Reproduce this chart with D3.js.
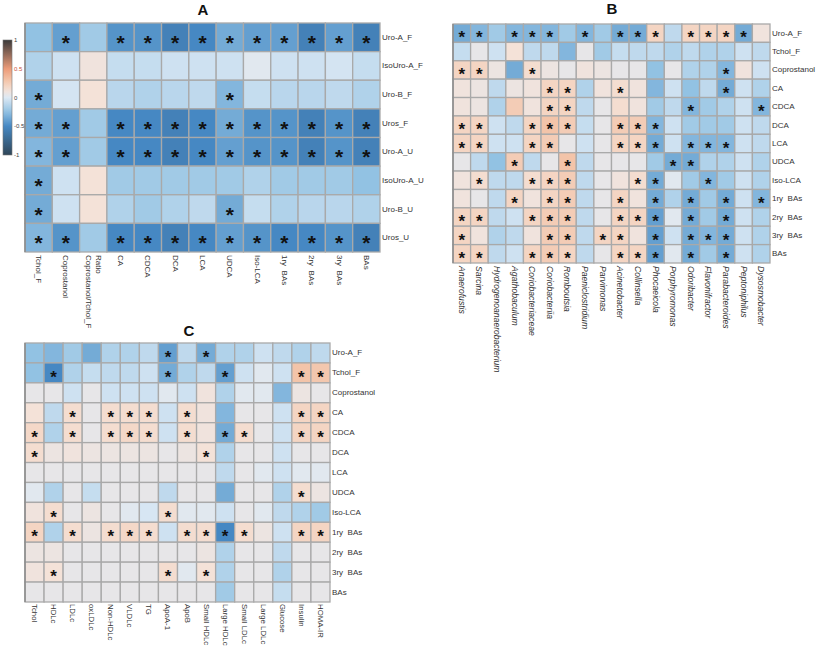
<!DOCTYPE html>
<html><head><meta charset="utf-8">
<script src="https://cdn.jsdelivr.net/npm/d3@7"></script>
<style>
html,body{margin:0;padding:0;background:#fff;}
svg{display:block;font-family:"Liberation Sans",Arial,sans-serif;}
</style></head>
<body><svg id="chart" width="817" height="649"></svg>
<script>
// ---------- Panel A ----------
const aRows = ["Uro-A_F","IsoUro-A_F","Uro-B_F","Uros_F","Uro-A_U","IsoUro-A_U","Uro-B_U","Uros_U"];
const aCols = ["Tchol_F","Coprostanol","Ratio\nCoprostanol/Tchol_F","CA","CDCA","DCA","LCA","UDCA","Iso-LCA","1ry  BAs","2ry  BAs","3ry  BAs","BAs"];
const aValues = [
  [-0.25,-0.40,-0.20,-0.45,-0.45,-0.55,-0.50,-0.35,-0.40,-0.40,-0.55,-0.40,-0.55],
  [-0.15,-0.05, 0.10,-0.08,-0.08,-0.05,-0.05,-0.05, 0.02,-0.05,-0.05,-0.03,-0.08],
  [-0.35,-0.03, 0.12,-0.12,-0.15,-0.12,-0.10,-0.30,-0.08,-0.12,-0.12,-0.10,-0.15],
  [-0.35,-0.40,-0.20,-0.50,-0.50,-0.55,-0.50,-0.35,-0.45,-0.45,-0.55,-0.45,-0.55],
  [-0.30,-0.40,-0.20,-0.50,-0.50,-0.55,-0.50,-0.40,-0.45,-0.45,-0.55,-0.45,-0.55],
  [-0.35,-0.05, 0.12,-0.20,-0.20,-0.20,-0.20,-0.20,-0.15,-0.20,-0.20,-0.20,-0.25],
  [-0.35,-0.05, 0.12,-0.15,-0.20,-0.15,-0.10,-0.35,-0.08,-0.15,-0.12,-0.12,-0.15],
  [-0.30,-0.45,-0.20,-0.50,-0.50,-0.55,-0.50,-0.40,-0.45,-0.50,-0.50,-0.45,-0.55]
];
const aStars = [
  [1,3,4,5,6,7,8,9,10,11,12],
  [],
  [0,7],
  [0,1,3,4,5,6,7,8,9,10,11,12],
  [0,1,3,4,5,6,7,8,9,10,11,12],
  [0],
  [0,7],
  [0,1,3,4,5,6,7,8,9,10,11,12]
];
const legendTicks = [1,0.5,0,-0.5,-1];

// ---------- Panel B ----------
const bRows = ["Uro-A_F","Tchol_F","Coprostanol","CA","CDCA","DCA","LCA","UDCA","Iso-LCA","1ry  BAs","2ry  BAs","3ry  BAs","BAs"];
const bCols = ["Anaerofustis","Sarcina","Hydrogenoanaerobacterium","Agathobaculum","Coriobacteriaceae","Coriobacteriia","Romboutsia","Paeniclostridium","Parvimonas","Acinetobacter","Collinsella","Phocaeicola","Porphyromonas","Odoribacter","Flavonifractor","Parabacteroides","Peptoniphilus","Dysosmobacter"];
const bValues = [
  [-0.35,-0.30,-0.20,-0.30,-0.30,-0.30,-0.20,-0.30,-0.20,-0.35,-0.35, 0.20,-0.10, 0.20, 0.20, 0.20,-0.35, 0.10],
  [-0.08, 0.05,-0.05, 0.12,-0.10,-0.10,-0.30, 0.05,-0.20,-0.08,-0.10,-0.10,-0.15,-0.10,-0.15,-0.15,-0.05,-0.10],
  [ 0.20, 0.20, 0.08,-0.35, 0.15, 0.08, 0.05, 0.10, 0.08, 0.05, 0.05,-0.25, 0.05,-0.15,-0.15,-0.30, 0.10,-0.05],
  [ 0.10, 0.08,-0.10, 0.08, 0.10, 0.20, 0.20,-0.15, 0.10, 0.15, 0.10,-0.30,-0.05,-0.25,-0.10,-0.35,-0.05,-0.15],
  [ 0.10, 0.08,-0.15, 0.25, 0.10, 0.20, 0.20,-0.10, 0.05, 0.15, 0.10,-0.20,-0.10,-0.30,-0.20,-0.15,-0.05,-0.30],
  [ 0.20, 0.20,-0.05,-0.10, 0.20, 0.30, 0.25,-0.08, 0.05, 0.25, 0.25,-0.30,-0.05,-0.20,-0.20,-0.20,-0.05,-0.10],
  [ 0.20, 0.20,-0.05,-0.05, 0.20, 0.25, 0.05,-0.05, 0.05, 0.20, 0.20,-0.35,-0.05,-0.30,-0.30,-0.30,-0.05,-0.10],
  [ 0.05,-0.10,-0.25, 0.25,-0.10, 0.05, 0.30,-0.10, 0.05, 0.05, 0.05,-0.20,-0.35,-0.35,-0.15,-0.15,-0.05,-0.15],
  [ 0.10, 0.15,-0.10,-0.10, 0.15, 0.20, 0.25,-0.10, 0.05, 0.10, 0.15,-0.35, 0.02,-0.20,-0.30,-0.20,-0.05,-0.15],
  [ 0.10, 0.05,-0.10, 0.20, 0.10, 0.20, 0.25,-0.10, 0.05, 0.20, 0.10,-0.35,-0.15,-0.35,-0.20,-0.35,-0.05,-0.30],
  [ 0.20, 0.20,-0.10,-0.05, 0.20, 0.25, 0.25,-0.10, 0.05, 0.20, 0.20,-0.40, 0.02,-0.35,-0.20,-0.35,-0.05,-0.15],
  [ 0.20, 0.10,-0.15,-0.10, 0.10, 0.25, 0.25,-0.10, 0.20, 0.20, 0.10,-0.40,-0.05,-0.35,-0.30,-0.35,-0.05,-0.15],
  [ 0.20, 0.20,-0.10,-0.05, 0.20, 0.25, 0.20,-0.10, 0.05, 0.20, 0.20,-0.40, 0.02,-0.35,-0.20,-0.35,-0.05,-0.15]
];
const bStars = [
  [0,1,3,4,5,7,9,10,11,13,14,15,16],
  [],
  [0,1,4,15],
  [5,6,9,15],
  [5,6,13,17],
  [0,1,4,5,6,9,10,11],
  [0,1,4,5,9,10,11,13,14,15],
  [3,6,12,13],
  [1,4,5,6,10,11,14],
  [3,5,6,9,11,13,15,17],
  [0,1,4,5,6,9,10,11,13,15],
  [0,5,6,8,9,11,13,14,15],
  [0,1,4,5,6,9,10,11,13,15]
];

// ---------- Panel C ----------
const cRows = ["Uro-A_F","Tchol_F","Coprostanol","CA","CDCA","DCA","LCA","UDCA","Iso-LCA","1ry  BAs","2ry  BAs","3ry  BAs","BAs"];
const cCols = ["Tchol","HDLc","LDLc","oxLDLc","Non-HDLc","VLDLc","TG","ApoA-1","ApoB","Small HDLc","Large HDLc","Small LDLc","Large LDLc","Glucose","Insulin","HOMA-IR"];
const cValues = [
  [-0.25,-0.30,-0.20,-0.35,-0.15,-0.15,-0.10,-0.40,-0.10,-0.35,-0.15,-0.15,-0.05,-0.10,-0.15,-0.10],
  [-0.25,-0.50,-0.15,-0.08,-0.10,-0.10,-0.05,-0.35,-0.15,-0.10,-0.40,-0.05, 0.02,-0.05, 0.30, 0.28],
  [ 0.05, 0.05,-0.05, 0.05,-0.05,-0.05,-0.05, 0.02,-0.05, 0.10,-0.15, 0.02, 0.02,-0.30, 0.08, 0.05],
  [ 0.12,-0.10, 0.15, 0.05, 0.15, 0.15, 0.15,-0.05, 0.15, 0.10,-0.30, 0.05, 0.05,-0.05, 0.20, 0.20],
  [ 0.18,-0.15, 0.15, 0.05, 0.15, 0.18, 0.15,-0.05, 0.15, 0.10,-0.35, 0.15, 0.05,-0.05, 0.20, 0.20],
  [ 0.15, 0.08, 0.10, 0.08, 0.08, 0.08, 0.08, 0.05, 0.08, 0.12,-0.15, 0.05, 0.05,-0.05, 0.05, 0.05],
  [ 0.05, 0.05, 0.05, 0.05, 0.05, 0.05, 0.05, 0.05, 0.05, 0.05,-0.10, 0.05, 0.02,-0.05, 0.02, 0.02],
  [ 0.02,-0.15, 0.05,-0.08, 0.05, 0.05, 0.05,-0.10, 0.05, 0.05,-0.35, 0.05, 0.05,-0.15, 0.15, 0.08],
  [ 0.10, 0.15, 0.05, 0.08, 0.05, 0.02,-0.02, 0.15, 0.02, 0.02,-0.05, 0.05, 0.02,-0.10,-0.15,-0.20],
  [ 0.20,-0.15, 0.15, 0.08, 0.15, 0.18, 0.15,-0.05, 0.15, 0.15,-0.50, 0.15, 0.08,-0.05, 0.20, 0.20],
  [ 0.08, 0.08, 0.05, 0.05, 0.05, 0.05, 0.05, 0.05, 0.05, 0.08,-0.15, 0.05, 0.05,-0.10, 0.05, 0.05],
  [ 0.10, 0.12, 0.05, 0.05, 0.05, 0.05, 0.05, 0.15, 0.02, 0.12,-0.15, 0.05, 0.05,-0.15, 0.05, 0.05],
  [ 0.05, 0.05, 0.05, 0.05, 0.05, 0.05, 0.05, 0.05, 0.05, 0.05,-0.20, 0.05, 0.05,-0.08, 0.05, 0.05]
];
const cStars = [
  [7,9],
  [1,7,10,14,15],
  [],
  [2,4,5,6,8,14,15],
  [0,2,4,5,6,8,10,11,14,15],
  [0,9],
  [],
  [14],
  [1,7],
  [0,2,4,5,6,8,9,10,11,14,15],
  [],
  [1,7,9],
  []
];

// ---------- drawing ----------
const svg = d3.select("#chart");
const color = d3.scaleLinear()
  .domain([-1,-0.5,-0.25,0,0.12,0.3,0.5,1])
  .range(["#2f4658","#4688c3","#92c2e3","#dde9f4","#f4e2d8","#f3c4a9","#ec9b79","#3a3a3a"])
  .clamp(true);

function drawPanel(cfg) {
  const g = svg.append("g");
  const x = d3.scaleBand().domain(d3.range(cfg.cols.length)).range([cfg.x0, cfg.x1]);
  const y = d3.scaleBand().domain(d3.range(cfg.rows.length)).range([cfg.y0, cfg.y1]);
  const cells = [];
  cfg.values.forEach((row, i) => row.forEach((v, j) => cells.push({i, j, v})));
  g.selectAll("rect.cell").data(cells).join("rect")
    .attr("class","cell")
    .attr("x", d => x(d.j)).attr("y", d => y(d.i))
    .attr("width", x.bandwidth()).attr("height", y.bandwidth())
    .attr("fill", d => color(d.v))
    .attr("stroke", "#a9a9a9").attr("stroke-width", 1.3);
  g.append("line").attr("x1", cfg.x0).attr("x2", cfg.x0).attr("y1", cfg.y0).attr("y2", cfg.y1)
    .attr("stroke", "#8a8a8a").attr("stroke-width", 1.5);
  // stars
  const stars = [];
  cfg.stars.forEach((cols, i) => cols.forEach(j => stars.push({i, j})));
  g.selectAll("text.star").data(stars).join("text")
    .attr("class","star")
    .attr("x", d => x(d.j) + x.bandwidth()/2)
    .attr("y", d => y(d.i) + y.bandwidth()/2 + cfg.starSize*0.6)
    .attr("text-anchor","middle")
    .attr("font-size", cfg.starSize).attr("font-weight","bold")
    .attr("fill","#111").text("*");
  // row labels
  g.selectAll("text.rowlab").data(cfg.rows).join("text")
    .attr("class","rowlab")
    .attr("x", cfg.x1 + cfg.rowGap)
    .attr("y", (d, i) => y(i) + y.bandwidth()/2)
    .attr("dominant-baseline","central")
    .attr("font-size", cfg.rowFont).attr("fill","#333")
    .style("white-space","pre")
    .text(d => d);
  // column labels (rotated)
  const cl = g.selectAll("text.collab").data(cfg.cols).join("text")
    .attr("class","collab")
    .attr("transform", (d, j) => `translate(${x(j) + x.bandwidth()/2},${cfg.y1 + cfg.colGap}) rotate(90)`)
    .attr("font-size", cfg.colFont).attr("fill","#333")
    .attr("font-style", cfg.italic ? "italic" : "normal")
    .style("white-space","pre");
  cl.each(function(d) {
    const lines = d.split("\n");
    const t = d3.select(this);
    const off = (lines.length - 1) / 2;
    lines.forEach((ln, k) => {
      t.append("tspan").attr("x", 0).attr("y", (k - off) * (cfg.colFont + 1.5))
        .attr("dominant-baseline","central").attr("fill","#333").text(ln);
    });
  });
  svg.append("text").attr("x", cfg.titleX).attr("y", cfg.titleY)
    .attr("text-anchor","middle").attr("font-size", 15).attr("font-weight","bold")
    .attr("fill","#111").text(cfg.title);
}

drawPanel({rows:aRows, cols:aCols, values:aValues, stars:aStars,
  x0:25, x1:380, y0:23, y1:252, starSize:21, rowFont:8, colFont:8, rowGap:2, colGap:3, italic:false,
  title:"A", titleX:203, titleY:15});
drawPanel({rows:bRows, cols:bCols, values:bValues, stars:bStars,
  x0:453, x1:770, y0:24, y1:263, starSize:17, rowFont:8, colFont:8.6, rowGap:2, colGap:3, italic:true,
  title:"B", titleX:612, titleY:14});
drawPanel({rows:cRows, cols:cCols, values:cValues, stars:cStars,
  x0:25, x1:330, y0:343, y1:602, starSize:17, rowFont:8, colFont:7.8, rowGap:2, colGap:2, italic:false,
  title:"C", titleX:189, titleY:336});

// ---------- colour legend (panel A) ----------
const lg = svg.append("g");
const defs = svg.append("defs");
const grad = defs.append("linearGradient").attr("id","lgrad")
  .attr("x1","0").attr("y1","0").attr("x2","0").attr("y2","1");
d3.range(0, 1.0001, 0.05).forEach(t => {
  grad.append("stop").attr("offset", t).attr("stop-color", color(1 - 2*t));
});
const ly = d3.scaleLinear().domain([1,-1]).range([40,155]);
lg.append("rect").attr("x",3).attr("y",ly(1)).attr("width",9).attr("height",ly(-1)-ly(1))
  .attr("fill","url(#lgrad)").attr("stroke","#777").attr("stroke-width",0.6);
lg.selectAll("text.lt").data(legendTicks).join("text")
  .attr("class","lt")
  .attr("x",14).attr("y", d => ly(d)).attr("dominant-baseline","central")
  .attr("font-size",6).attr("fill", d => d === 0.5 ? "#c8503a" : "#444")
  .text(d => d);
</script></body></html>
